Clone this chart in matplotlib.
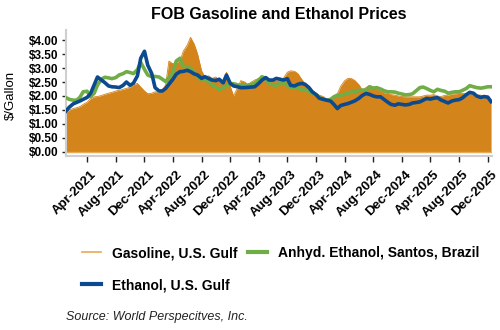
import matplotlib
matplotlib.use("Agg")
import matplotlib.pyplot as plt
import matplotlib.dates as mdates
import matplotlib.transforms as mtransforms
from matplotlib.lines import Line2D
from matplotlib.ticker import FuncFormatter, MultipleLocator
import pandas as pd

# semi-monthly observation dates (1st and 15th), Jan-2021 .. Dec-2025
dates = pd.date_range("2021-01-01", periods=120, freq="SMS")

gasoline_us_gulf = [
    1.41, 1.50, 1.55, 1.58, 1.62, 1.70, 1.78, 1.90, 1.97, 1.98,
    2.02, 2.06, 2.10, 2.13, 2.18, 2.20, 2.24, 2.27, 2.32, 2.40,
    2.45, 2.32, 2.18, 2.08, 2.10, 2.15, 2.14, 2.20, 2.40, 3.25,
    3.15, 3.20, 3.25, 3.60, 3.82, 4.10, 3.85, 3.50, 2.90, 2.69,
    2.72, 2.63, 2.68, 2.55, 2.55, 2.85, 2.35, 2.00, 2.30, 2.55,
    2.50, 2.39, 2.50, 2.57, 2.63, 2.57, 2.63, 2.60, 2.55, 2.57,
    2.60, 2.63, 2.85, 2.90, 2.88, 2.80, 2.60, 2.45, 2.35, 2.20,
    2.10, 2.03, 1.98, 1.90, 1.85, 1.95, 2.08, 2.35, 2.55, 2.63,
    2.62, 2.55, 2.40, 2.22, 2.30, 2.38, 2.33, 2.25, 2.18, 2.12,
    2.10, 2.05, 2.03, 2.00, 1.98, 1.97, 1.97, 1.97, 1.97, 1.97,
    2.00, 2.03, 2.03, 2.05, 2.00, 1.98, 2.02, 2.03, 2.07, 2.08,
    2.09, 2.09, 2.09, 2.08, 2.05, 2.03, 2.03, 2.00, 1.97, 1.80,
]

ethanol_us_gulf = [
    1.46, 1.60, 1.72, 1.77, 1.82, 1.88, 1.95, 2.08, 2.40, 2.68,
    2.57, 2.48, 2.36, 2.33, 2.32, 2.30, 2.38, 2.50, 2.38, 2.46,
    2.72, 3.35, 3.60, 3.10, 2.80, 2.30, 2.18, 2.18, 2.27, 2.42,
    2.60, 2.78, 2.87, 2.88, 2.92, 2.87, 2.79, 2.75, 2.63, 2.69,
    2.62, 2.57, 2.55, 2.60, 2.47, 2.75, 2.45, 2.36, 2.33, 2.30,
    2.30, 2.31, 2.32, 2.33, 2.45, 2.57, 2.66, 2.57, 2.57, 2.63,
    2.60, 2.57, 2.62, 2.38, 2.36, 2.42, 2.45, 2.42, 2.30, 2.15,
    2.05, 1.92, 1.88, 1.85, 1.82, 1.70, 1.55, 1.66, 1.70, 1.73,
    1.78, 1.83, 1.92, 2.02, 2.09, 2.06, 2.00, 1.97, 1.97, 1.88,
    1.78, 1.70, 1.67, 1.72, 1.70, 1.68, 1.70, 1.75, 1.77, 1.79,
    1.85, 1.91, 1.89, 1.92, 1.94, 1.86, 1.80, 1.75, 1.82, 1.85,
    1.87, 1.93, 2.05, 2.13, 2.10, 2.00, 1.95, 1.98, 1.96, 1.80,
]

anhyd_ethanol_santos = [
    1.94, 1.88, 1.85, 1.85, 1.95, 2.15, 2.17, 1.97, 2.10, 2.39,
    2.60, 2.67, 2.65, 2.62, 2.66, 2.75, 2.80, 2.87, 2.84, 2.80,
    2.94, 3.20, 2.95, 2.75, 2.69, 2.70, 2.68, 2.60, 2.52, 2.65,
    2.85, 3.25, 3.35, 3.05, 3.05, 2.98, 2.84, 2.69, 2.57, 2.60,
    2.50, 2.39, 2.33, 2.22, 2.30, 2.36, 2.44, 2.44, 2.40, 2.37,
    2.38, 2.39, 2.42, 2.45, 2.57, 2.69, 2.62, 2.45, 2.40, 2.38,
    2.45, 2.48, 2.38, 2.30, 2.30, 2.30, 2.22, 2.21, 2.18, 2.09,
    2.05, 1.95, 1.88, 1.85, 1.88, 1.97, 2.03, 2.03, 2.06, 2.10,
    2.15, 2.16, 2.20, 2.21, 2.21, 2.32, 2.28, 2.30, 2.25, 2.19,
    2.15, 2.15, 2.14, 2.10, 2.07, 2.04, 2.05, 2.08, 2.20, 2.30,
    2.32, 2.27, 2.20, 2.15, 2.24, 2.20, 2.17, 2.10, 2.13, 2.15,
    2.15, 2.20, 2.27, 2.37, 2.33, 2.30, 2.28, 2.30, 2.33, 2.33,
]

series_labels = ["Gasoline, U.S. Gulf", "Anhyd. Ethanol, Santos, Brazil", "Ethanol, U.S. Gulf"]
title = "FOB Gasoline and Ethanol Prices"
y_label = "$/Gallon"
source = "Source: World Perspecitves, Inc."

C_GAS = "#D3841B"
C_GAS_EDGE = "#E9AA55"
C_GREEN = "#70AD47"
C_BLUE = "#0B4A8E"

plt.rcParams["font.family"] = ["Liberation Sans", "DejaVu Sans"]

fig = plt.figure(figsize=(5, 3.3), dpi=100)
ax = fig.add_axes([0.132, 0.527, 0.852, 0.382])

ax.fill_between(dates, 0, gasoline_us_gulf, color=C_GAS, lw=0, zorder=2)
ax.plot(dates, gasoline_us_gulf, color=C_GAS, lw=0.6, zorder=2)
ax.axhline(0, color=C_GAS_EDGE, lw=1.0, zorder=2.5)
ax.plot(dates, anhyd_ethanol_santos, color=C_GREEN, lw=2.6, zorder=3, solid_joinstyle="round")
ax.plot(dates, ethanol_us_gulf, color=C_BLUE, lw=2.6, zorder=4, solid_joinstyle="round")

ax.set_ylim(-0.15, 4.36)
ax.set_xlim(pd.Timestamp("2021-01-01"), pd.Timestamp("2025-12-19"))
ax.yaxis.set_major_locator(MultipleLocator(0.5))
ax.yaxis.set_major_formatter(FuncFormatter(lambda v, p: f"${v:.2f}"))
ax.xaxis.set_major_locator(mdates.MonthLocator(bymonth=[4, 8, 12]))
ax.xaxis.set_major_formatter(mdates.DateFormatter("%b-%Y"))

for s in ["top", "right"]:
    ax.spines[s].set_visible(False)
for s in ["left", "bottom"]:
    ax.spines[s].set_color("#CFCFCF")
    ax.spines[s].set_linewidth(1.5)

ax.tick_params(axis="y", length=3, width=1, color="#222222", pad=2.5, labelsize=8.5)
ax.tick_params(axis="x", length=4, width=1, color="#222222", pad=5, labelsize=9.5)
for lab in ax.get_yticklabels():
    lab.set_fontweight("bold")
offset = mtransforms.ScaledTranslation(3 / 100, 0, fig.dpi_scale_trans)
for lab in ax.get_xticklabels():
    lab.set_fontweight("bold")
    lab.set_rotation(45)
    lab.set_ha("right")
    lab.set_va("top")
    lab.set_rotation_mode("anchor")
    lab.set_transform(lab.get_transform() + offset)

fig.text(0.558, 0.957, title, ha="center", va="center", fontsize=11.5, fontweight="bold")
fig.text(0.022, 1 - 95 / 330, y_label, rotation=90, ha="center", va="center", fontsize=9.5)

handles = [
    Line2D([], [], color=C_GAS_EDGE, lw=1.2),
    Line2D([], [], color=C_BLUE, lw=3),
    Line2D([], [], color=C_GREEN, lw=3),
]
labels = [series_labels[0], series_labels[2], series_labels[1]]
fig.legend(handles, labels, ncol=2, loc="upper left", bbox_to_anchor=(0.164, 1 - 246 / 330),
           frameon=False, borderpad=0, borderaxespad=0, handlelength=1.4, handletextpad=0.75,
           columnspacing=0.75, labelspacing=1.3, prop={"size": 10, "weight": "bold"})

fig.text(0.133, 1 - 317 / 330, source, ha="left", va="center", fontsize=9, style="italic", color="#222222")

fig.savefig("out.png", dpi=100)
